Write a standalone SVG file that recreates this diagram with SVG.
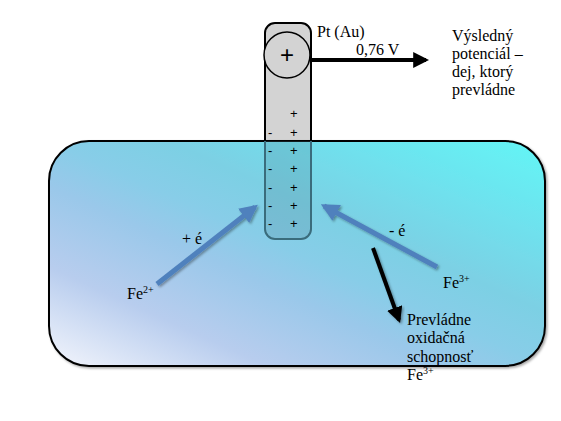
<svg xmlns="http://www.w3.org/2000/svg" width="561" height="421" viewBox="0 0 561 421">
<style>
.s{font-family:"Liberation Sans",Arial,sans-serif;font-size:13px;fill:#000}
.sup{font-size:10px}
</style>
<defs>
<linearGradient id="sol" x1="0" y1="1" x2="1" y2="0">
<stop offset="0" stop-color="#f3f5fc"/>
<stop offset="0.22" stop-color="#b8cdee"/>
<stop offset="0.4" stop-color="#9ac8ea"/>
<stop offset="0.5" stop-color="#88cde8"/>
<stop offset="0.62" stop-color="#7cd0e4"/>
<stop offset="0.8" stop-color="#6ee2ee"/>
<stop offset="1" stop-color="#62f6f6"/>
</linearGradient>
<clipPath id="inside"><rect x="49" y="141" width="496" height="225" rx="40"/></clipPath>
<marker id="ab" viewBox="0 0 10 10" refX="8" refY="5" markerWidth="4" markerHeight="4" orient="auto" markerUnits="strokeWidth"><path d="M0,0 L10,5 L0,10 z" fill="#000"/></marker>
<marker id="abl" viewBox="0 0 10 10" refX="8" refY="5" markerWidth="3.6" markerHeight="3.6" orient="auto" markerUnits="strokeWidth"><path d="M0,0 L10,5 L0,10 z" fill="#4f81bd"/></marker>
<filter id="sh" x="-20%" y="-20%" width="140%" height="140%"><feDropShadow dx="1.5" dy="1.5" stdDeviation="1.2" flood-color="#000" flood-opacity="0.35"/></filter>
</defs>
<g id="electrode">
<rect x="265" y="23" width="46" height="216" rx="10" fill="#d3d3d3" stroke="#000" stroke-width="2"/>
</g>
<g id="beaker">
<rect x="49" y="141" width="496" height="225" rx="40" fill="url(#sol)" stroke="#000" stroke-width="2" filter="url(#sh)"/>
</g>
<g id="electrode-submerged" clip-path="url(#inside)">
<rect x="265" y="23" width="46" height="216" rx="10" fill="#4d7f90" fill-opacity="0.22" stroke="#3a6c7c" stroke-width="2"/>
</g>
<g id="charges">
<text x="290" y="118" class="s">+</text>
<text x="290" y="137" class="s">+</text>
<text x="290" y="155" class="s">+</text>
<text x="290" y="173" class="s">+</text>
<text x="290" y="192" class="s">+</text>
<text x="290" y="210" class="s">+</text>
<text x="290" y="228" class="s">+</text>
<text x="268" y="137" class="s">-</text>
<text x="268" y="155" class="s">-</text>
<text x="268" y="173" class="s">-</text>
<text x="268" y="192" class="s">-</text>
<text x="268" y="210" class="s">-</text>
<text x="268" y="228" class="s">-</text>
</g>
<g id="terminal">
<circle cx="287" cy="55" r="23" fill="#d3d3d3" stroke="#000" stroke-width="1.5"/>
<text x="287" y="63" text-anchor="middle" font-family="Liberation Sans, Arial, sans-serif" font-size="24">+</text>
</g>
<g id="connectors">
<line x1="310" y1="60" x2="426" y2="60" stroke="#000" stroke-width="4" marker-end="url(#ab)"/>
<line x1="157" y1="284" x2="255" y2="207" stroke="#4f81bd" stroke-width="5" marker-end="url(#abl)" filter="url(#sh)"/>
<line x1="437" y1="267" x2="324" y2="206" stroke="#4f81bd" stroke-width="5" marker-end="url(#abl)" filter="url(#sh)"/>
<line x1="373" y1="248" x2="399" y2="320" stroke="#000" stroke-width="4" marker-end="url(#ab)" filter="url(#sh)"/>
</g>
<g id="labels" font-family="Liberation Serif, Times New Roman, serif" font-size="16" fill="#000">
<text x="317" y="37">Pt (Au)</text>
<text x="356" y="55">0,76 V</text>
<text x="452" y="41">Výsledný</text>
<text x="452" y="59">potenciál –</text>
<text x="452" y="77">dej, ktorý</text>
<text x="452" y="95">prevládne</text>
<text x="182" y="244">+ é</text>
<text x="389" y="236">- é</text>
<text x="127" y="299">Fe<tspan class="sup" dy="-6">2+</tspan></text>
<text x="443" y="288">Fe<tspan class="sup" dy="-6">3+</tspan></text>
<text x="407" y="325">Prevládne</text>
<text x="407" y="343">oxidačná</text>
<text x="407" y="362">schopnosť</text>
<text x="407" y="380">Fe<tspan class="sup" dy="-6">3+</tspan></text>
</g>
</svg>
